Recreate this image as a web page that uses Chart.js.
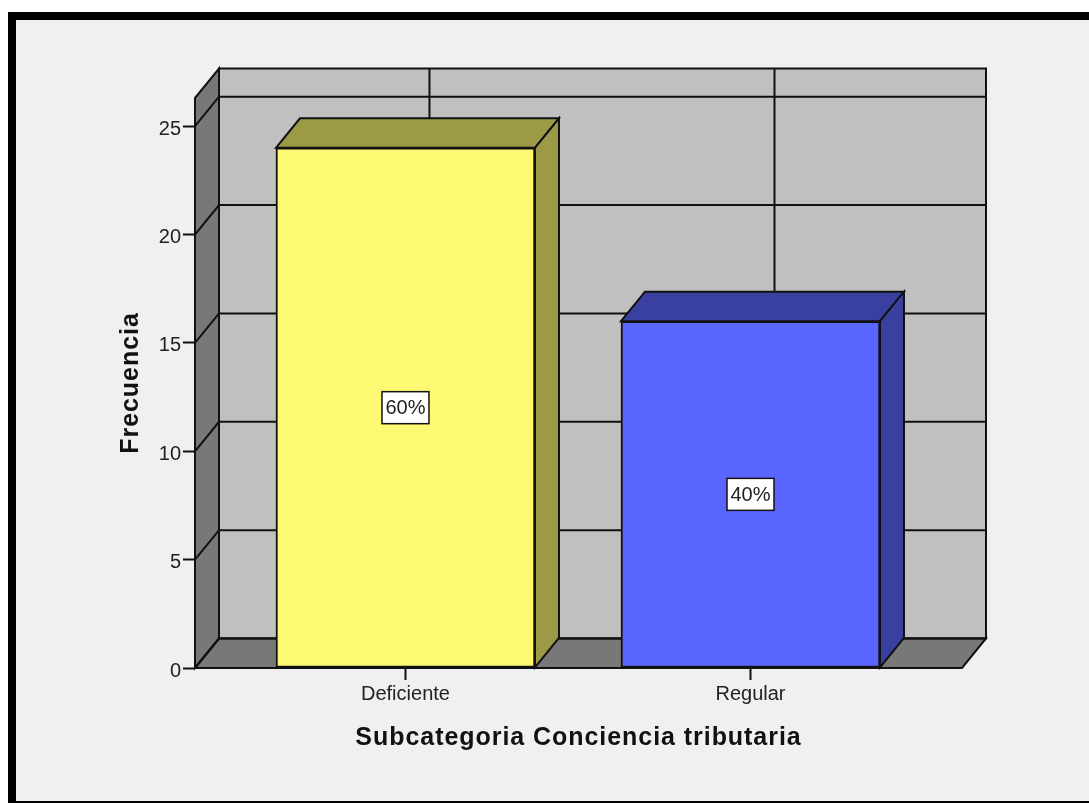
<!DOCTYPE html>
<html>
<head>
<meta charset="utf-8">
<script src="https://cdn.jsdelivr.net/npm/chart.js@4/dist/chart.umd.js"></script>
<style>
html,body{margin:0;padding:0;background:#fff;width:1089px;height:803px;overflow:hidden}
#frame{position:absolute;left:8px;top:12px;width:1081px;height:791px;box-sizing:border-box;background:#f0f0f0;border-left:8px solid #000;border-top:8px solid #000;border-bottom:2px solid #000}
canvas{position:absolute;left:0;top:0;display:block}
</style>
</head>
<body>
<div id="frame"></div>
<canvas id="c" width="1089" height="803"></canvas>
<script>
const categories = ['Deficiente', 'Regular'];
const frequencies = [24, 16];
const percentLabels = ['60%', '40%'];
const barFill = ['#fdf972', '#5a64ff'];
const barShade = ['#9c9a46', '#3a409f'];
const xTitle = 'Subcategoria Conciencia tributaria';
const yTitle = 'Frecuencia';

const DX = 24, DY = 29.5, INK = '#111', TITLE_SPACING = '0.95px';

function poly(ctx, pts, fill) {
  ctx.beginPath();
  pts.forEach((p, i) => i ? ctx.lineTo(p[0], p[1]) : ctx.moveTo(p[0], p[1]));
  ctx.closePath();
  ctx.fillStyle = fill;
  ctx.fill();
  ctx.stroke();
}

function spacedTitle(scale) {
  if (scale._spaced) return;
  scale._spaced = true;
  const draw = scale.drawTitle;
  scale.drawTitle = function () {
    const ctx = this.ctx;
    ctx.letterSpacing = TITLE_SPACING;
    draw.call(this);
    ctx.letterSpacing = '0px';
  };
}

const box3d = {
  id: 'box3d',
  beforeDatasetsDraw(chart) {
    const ctx = chart.ctx, a = chart.chartArea;
    const xs = chart.scales.x, ys = chart.scales.y;
    const l = a.left, r = a.right, t = a.top, b = a.bottom;
    ctx.save();
    ctx.strokeStyle = INK;
    ctx.lineWidth = 2;
    poly(ctx, [[l+DX,t-DY],[r+DX,t-DY],[r+DX,b-DY],[l+DX,b-DY]], '#c0c0c0');
    poly(ctx, [[l,t],[l+DX,t-DY],[l+DX,b-DY],[l,b]], '#787878');
    poly(ctx, [[l,b],[l+DX,b-DY],[r+DX,b-DY],[r,b]], '#787878');
    ctx.beginPath();
    ys.ticks.forEach(tk => {
      const y = ys.getPixelForValue(tk.value);
      ctx.moveTo(l, y); ctx.lineTo(l+DX, y-DY); ctx.lineTo(r+DX, y-DY);
    });
    xs.ticks.forEach(tk => {
      const x = xs.getPixelForValue(tk.value);
      ctx.moveTo(x+DX, t-DY); ctx.lineTo(x+DX, b-DY);
    });
    ctx.stroke();
    const els = chart.getDatasetMeta(0).data;
    els.forEach((el, i) => {
      const L = el.x - el.width/2, R = el.x + el.width/2, T = el.y, B = el.base;
      poly(ctx, [[L,T],[L+DX,T-DY],[R+DX,T-DY],[R,T]], barShade[i]);
      poly(ctx, [[R,T],[R+DX,T-DY],[R+DX,B-DY],[R,B]], barShade[i]);
    });
    ctx.restore();
  },
  afterDatasetsDraw(chart) {
    const ctx = chart.ctx;
    const els = chart.getDatasetMeta(0).data;
    ctx.save();
    ctx.font = '20px "Liberation Sans", Arial, sans-serif';
    ctx.textAlign = 'center';
    ctx.textBaseline = 'middle';
    els.forEach((el, i) => {
      const cy = (el.y + el.base) / 2;
      ctx.fillStyle = '#fff';
      ctx.strokeStyle = INK;
      ctx.lineWidth = 1.5;
      ctx.fillRect(el.x-23.5, cy-16, 47, 32);
      ctx.strokeRect(el.x-23.5, cy-16, 47, 32);
      ctx.fillStyle = '#222';
      ctx.fillText(percentLabels[i], el.x, cy+1);
    });
    ctx.restore();
  }
};

new Chart(document.getElementById('c'), {
  type: 'bar',
  data: {
    datasets: [{
      data: categories.map((c, i) => ({x: i, y: frequencies[i]})),
      backgroundColor: barFill,
      borderColor: INK,
      borderWidth: 2,
      borderSkipped: false,
      barThickness: 259
    }]
  },
  options: {
    responsive: false,
    animation: false,
    events: [],
    layout: {padding: {left: 0, top: 98, right: 127, bottom: 0}},
    plugins: {legend: {display: false}, tooltip: {enabled: false}},
    scales: {
      x: {
        type: 'linear',
        offset: false,
        min: -0.61,
        max: 1.613,
        afterBuildTicks(s) { s.ticks = categories.map((c, i) => ({value: i})); },
        afterFit(s) { s.height = 135; spacedTitle(s); },
        border: {display: false},
        grid: {offset: false, drawOnChartArea: false, drawTicks: true, tickLength: 12, tickColor: INK, tickWidth: 2},
        ticks: {
          callback: v => categories[v],
          autoSkip: false, maxRotation: 0, padding: 2,
          color: '#222',
          font: {family: '"Liberation Sans", Arial, sans-serif', size: 20}
        },
        title: {
          display: true, text: xTitle, color: '#111',
          font: {family: '"Liberation Sans", Arial, sans-serif', size: 25, weight: 'bold'},
          padding: {top: 0, bottom: 50}
        }
      },
      y: {
        min: 0,
        max: 26.3,
        afterFit(s) { s.width = 195; spacedTitle(s); },
        border: {display: false},
        grid: {drawOnChartArea: false, drawTicks: true, tickLength: 12, tickColor: INK, tickWidth: 2},
        ticks: {
          stepSize: 5, includeBounds: false, padding: 2, labelOffset: 3,
          color: '#222',
          font: {family: '"Liberation Sans", Arial, sans-serif', size: 20}
        },
        title: {
          display: true, text: yTitle, color: '#111',
          font: {family: '"Liberation Sans", Arial, sans-serif', size: 25, weight: 'bold'},
          padding: {top: 116, bottom: 0}
        }
      }
    }
  },
  plugins: [box3d]
});
</script>
</body>
</html>
